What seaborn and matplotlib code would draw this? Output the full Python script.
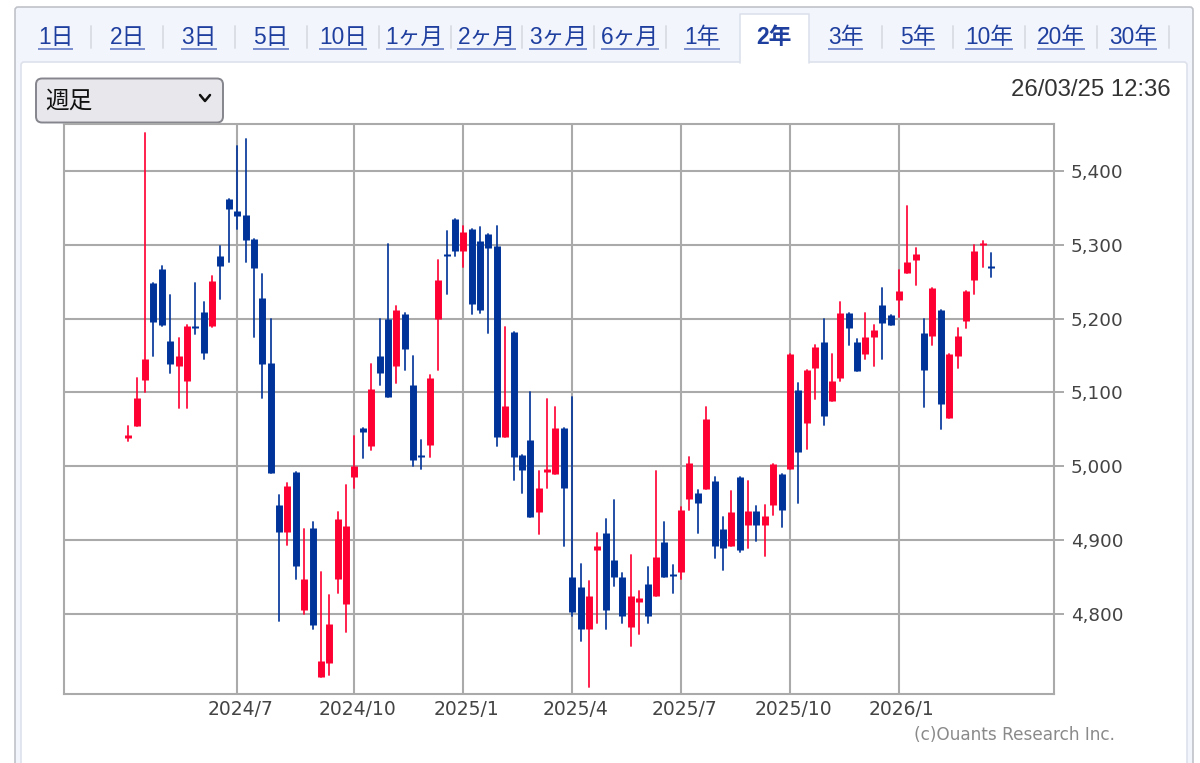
import numpy as np
import pandas as pd
import matplotlib
matplotlib.use("Agg")
import matplotlib.pyplot as plt
from matplotlib.patches import Rectangle, FancyBboxPatch
from matplotlib.transforms import ScaledTranslation
import seaborn as sns

# weekly OHLC values
opens = [5038,5055,5117,5248,5267,5170,5136,5115,5190,5209,5190,5285,5362,5346,5341,5308,5228,5140,
         4947,4911,4992,4806,4917,4715,4734,4848,4814,4985,5052,5027,5149,5200,5136,5206,5110,5016,5029,5199,5287,5335,
         5292,5322,5305,5315,5299,5040,5182,5016,5035,4938,4992,4989,5052,4850,4836,4780,4887,4910,4873,4850,4783,4816,4840,4825,4898,4854,4857,
         4956,4964,4969,4980,4915,4892,4985,4920,4940,4920,4948,4989,4997,5103,5059,5133,5168,5089,5120,5208,5168,5152,5175,5219,5205,
         5225,5262,5280,5180,5176,5212,5066,5150,5197,5253,5300,5272]
highs = [5055,5119,5452,5248,5271,5232,5174,5192,5248,5223,5258,5299,5362,5434,5443,5308,5260,5199,
         4961,4977,4992,4915,4925,4857,4826,4938,4975,5041,5052,5138,5199,5301,5217,5208,5149,5035,5124,5280,5319,5335,
         5326,5322,5324,5315,5326,5189,5182,5016,5100,4994,5091,5080,5052,5094,4868,4845,4910,4928,4954,4855,4880,4831,4863,4994,4924,4866,4945,
         5012,4968,5080,4985,4931,4966,4985,4980,4946,4947,5003,4989,5152,5113,5131,5164,5199,5152,5222,5208,5173,5208,5192,5241,5205,
         5266,5352,5296,5199,5242,5212,5152,5187,5238,5300,5305,5289]
lows = [5034,5055,5101,5149,5190,5126,5079,5079,5179,5145,5189,5226,5277,5321,5277,5175,5093,4991,
        4790,4894,4848,4800,4780,4715,4717,4829,4776,4971,5011,5022,5110,5094,5113,5131,5000,4997,5013,5131,5234,5285,
        5270,5206,5208,5181,5027,5040,4982,4964,4931,4908,4971,4989,4892,4797,4764,4701,4788,4780,4838,4788,4757,4773,4788,4825,4850,4828,4848,
        4941,4910,4969,4876,4859,4892,4884,4890,4899,4878,4934,4918,4997,4950,5024,5091,5056,5088,5115,5164,5129,5146,5136,5146,5192,
        5202,5262,5245,5080,5164,5050,5066,5133,5187,5234,5270,5257]
closes = [5042,5093,5146,5196,5192,5138,5149,5190,5187,5154,5251,5272,5348,5339,5307,5269,5138,4991,
          4911,4973,4865,4848,4785,4736,4787,4928,4919,5001,5046,5105,5127,5094,5212,5159,5008,5013,5119,5252,5285,5292,
          5317,5220,5212,5296,5040,5082,5013,4995,4931,4970,4996,5052,4971,4803,4780,4824,4892,4806,4850,4797,4824,4822,4797,4877,4850,4851,4941,
          5005,4950,5064,4892,4890,4938,4887,4940,4920,4933,5003,4941,5152,5020,5131,5161,5068,5116,5208,5187,5129,5175,5185,5194,5192,
          5238,5277,5287,5131,5242,5085,5152,5177,5238,5291,5303,5269]

tick_positions = [13, 27, 40, 53, 66, 79, 92]
x_tick_labels = ["2024/7", "2024/10", "2025/1", "2025/4", "2025/7", "2025/10", "2026/1"]
y_ticks = [4800, 4900, 5000, 5100, 5200, 5300, 5400]
tab_labels = ["1日", "2日", "3日", "5日", "10日", "1ヶ月", "2ヶ月", "3ヶ月", "6ヶ月",
              "1年", "2年", "3年", "5年", "10年", "20年", "30年"]
active_tab = "2年"

UP, DOWN = "#ff0033", "#003399"
GRID = "#aaaaaa"
LINK = "#1f3f9f"

sns.set_theme(style="white")
plt.rcParams["font.family"] = ["Liberation Sans", "Noto Sans CJK JP", "DejaVu Sans"]

fig = plt.figure(figsize=(12, 7.63), dpi=100, facecolor="white")
W, H = 1200, 763

# page chrome, in pixels
bg = fig.add_axes([0, 0, 1, 1], zorder=0)
bg.set_xlim(0, W); bg.set_ylim(H, 0); bg.axis("off")
bg.add_patch(FancyBboxPatch((15, 7), 1178, 780, boxstyle="round,pad=0,rounding_size=3",
                            fc="#f3f5fc", ec="#c0c2ca", lw=1.2))
bg.add_patch(FancyBboxPatch((21, 62), 1166, 720, boxstyle="round,pad=0,rounding_size=3",
                            fc="white", ec="#dde1ec", lw=1.2))
bg.add_patch(Rectangle((740, 14), 69, 50, fc="white", ec="none", zorder=3))
bg.plot([740, 740, 809, 809], [63, 14, 14, 63], color="#dde1ec", lw=1.2, zorder=3)

tab_spacing = (1133.5 - 56) / 15
fig.canvas.draw()
renderer = fig.canvas.get_renderer()
for k, lab in enumerate(tab_labels):
    cx = 55.5 + k * tab_spacing
    on = lab == active_tab
    t = bg.text(cx, 37.5, lab, ha="center", va="center", fontsize=16.4,
                color="#1f3f9f" if on else LINK, fontweight="bold" if on else "normal",
                family=["Liberation Sans", "Noto Sans CJK JP"], zorder=4)
    if not on:
        e = t.get_window_extent(renderer)
        bg.plot([e.x0, e.x1], [49, 49], color="#6f84c8", lw=1.3, zorder=4, solid_capstyle="butt")
    sx = cx + tab_spacing / 2
    if k not in (9, 10):
        bg.plot([sx, sx], [26, 48], color="#dcdee6", lw=1.4, zorder=2)

bg.add_patch(FancyBboxPatch((36, 78.5), 187, 44, boxstyle="round,pad=0,rounding_size=6",
                            fc="#e8e8ec", ec="#85858d", lw=1.4))
bg.text(45, 101, "週足", ha="left", va="center", fontsize=17, color="#111111",
        family=["Noto Sans CJK JP"])
bg.plot([200, 205, 210], [95, 101, 95], color="#111111", lw=1.8)
bg.text(1171, 90, "26/03/25 12:36", ha="right", va="center", fontsize=17.2, color="#333333")
bg.text(1115, 735, "(c)Ouants Research Inc.", ha="right", va="center", fontsize=12.2,
        color="#8a8a8a", family=["DejaVu Sans"])

# chart axes
L, R, T, B = 64, 1054, 124, 694
ax = fig.add_axes([L / W, 1 - B / H, (R - L) / W, (B - T) / H], zorder=1)
ax.patch.set_alpha(0)

n = len(opens)
df = pd.DataFrame({"i": np.arange(n), "o": opens, "h": highs, "l": lows, "c": closes})
df["dir"] = np.where(df.c > df.o, "up", "down")
palette = {"up": UP, "down": DOWN}

wicks = df.melt(id_vars=["i", "dir"], value_vars=["h", "l"], value_name="v")
bodies = df.melt(id_vars=["i", "dir"], value_vars=["o", "c"], value_name="v")

sns.lineplot(data=wicks, x="i", y="v", hue="dir", units="i", estimator=None, sort=False,
             palette=palette, linewidth=1.35, alpha=0.9, legend=False, ax=ax, zorder=3)
sns.lineplot(data=bodies, x="i", y="v", hue="dir", units="i", estimator=None, sort=False,
             palette=palette, linewidth=5.0, legend=False, ax=ax, zorder=4,
             solid_capstyle="butt")

# pixel calibration of the axes: candle 0 at x=128.3, pitch 8.376; 5400 at y=171, 0.7383 px per unit
ax.set_xlim((L - 128.3) / 8.376, (R - 128.3) / 8.376)
ax.set_ylim(5400 - (B - 171) / 0.7383, 5400 + (171 - T) / 0.7383)

ax.set_xticks(tick_positions)
ax.set_xticklabels(x_tick_labels)
ax.set_yticks(y_ticks)
ax.set_yticklabels([f"{v:,}" for v in y_ticks])
ax.yaxis.tick_right()
ax.set_xlabel(""); ax.set_ylabel("")
ax.set_axisbelow(True)
ax.grid(True, color=GRID, lw=1.5)
for s in ax.spines.values():
    s.set_visible(True); s.set_color(GRID); s.set_linewidth(1.5)
ax.tick_params(axis="y", length=7.2, width=1.4, color=GRID, pad=5, labelsize=13.2,
               labelcolor="#444444", right=True, left=False)
ax.tick_params(axis="x", length=0, pad=4.5, labelsize=13.5, labelcolor="#444444")
for lab in ax.get_xticklabels() + ax.get_yticklabels():
    lab.set_family(["DejaVu Sans"])
offset = ScaledTranslation(3 / 100, 0, fig.dpi_scale_trans)
for lab in ax.get_xticklabels():
    lab.set_transform(lab.get_transform() + offset)

fig.savefig("out.png", dpi=100)
